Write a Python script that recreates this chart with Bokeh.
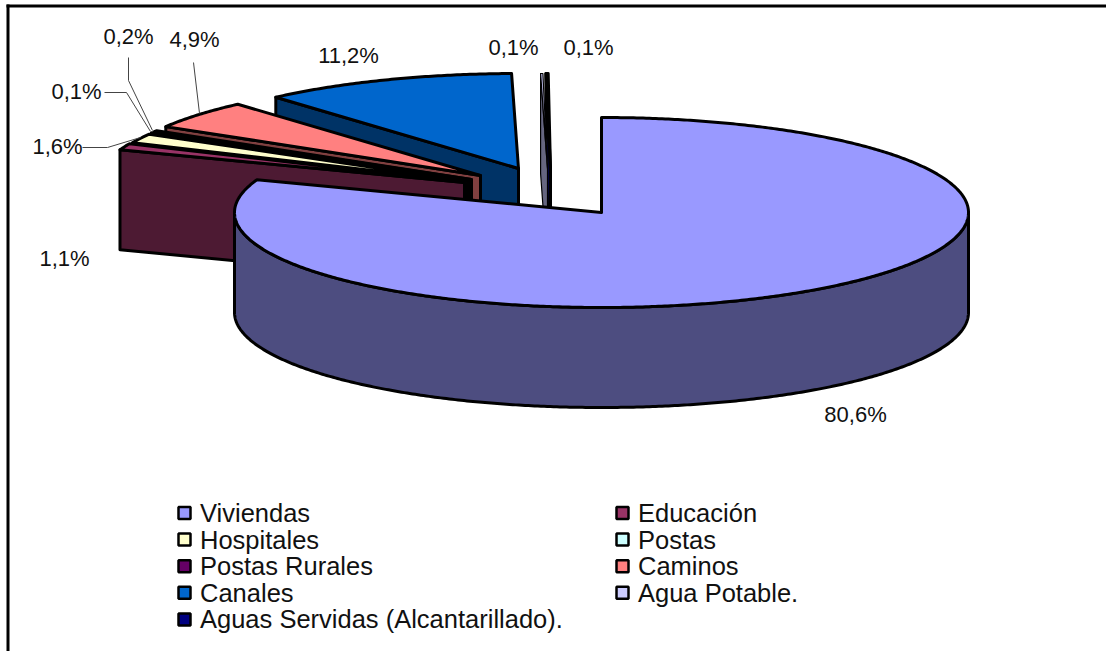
import math
from bokeh.plotting import figure
from bokeh.models import Range1d
from bokeh.core.properties import value
from bokeh.embed import file_html
from bokeh.resources import INLINE

# --- data ---
categories = ["Viviendas", "Educación", "Hospitales", "Postas", "Postas Rurales",
              "Caminos", "Canales", "Agua Potable.", "Aguas Servidas (Alcantarillado)."]
shares = [80.6, 1.1, 1.6, 0.1, 0.2, 4.9, 11.2, 0.1, 0.1]
share_labels = ["80,6%", "1,1%", "1,6%", "0,1%", "0,2%", "4,9%", "11,2%", "0,1%", "0,1%"]

# --- styles ---
top_colors = ["#9999FF", "#993366", "#FFFFCC", "#CCFFFF", "#660066", "#FF8080", "#0066CC", "#CCCCFF", "#000080"]
side_colors = ["#4D4D80", "#4D1A33", "#808066", "#668080", "#330033", "#804040", "#003366", "#666680", "#000040"]

# --- projection of the 3-D pie ---
RX, RY, DEPTH = 367, 95, 100
apex_x = [601, 464, 467, 469, 471, 480, 518, 547, 550]
apex_y = [212, 182, 181, 180, 179, 175, 168, 168, 168]
label_x = [855, 64, 57, 76, 128, 194, 348, 513, 588]
label_y = [414, 258, 146, 91, 36, 39, 55, 47, 47]
leaders = {2: [(82, 147), (107, 147), (140, 137)],
           3: [(104, 92), (126, 92), (150, 131)],
           4: [(128, 57), (128, 80), (152, 130)],
           5: [(193, 62), (199, 113)]}


def rim(cx, cy, deg, dz=0):
    a = math.radians(deg)
    return cx + RX * math.sin(a), cy - RY * math.cos(a) + dz


def arc(cx, cy, a0, a1, dz=0):
    n = max(2, int(abs(a1 - a0) * 2))
    return [rim(cx, cy, a0 + (a1 - a0) * i / n, dz) for i in range(n + 1)]


p = figure(width=1106, height=651, x_range=Range1d(0, 1106), y_range=Range1d(651, 0),
           toolbar_location=None, output_backend="svg", min_border=0,
           margin=(0, 0, 0, 0), outline_line_color=None, background_fill_color="white")
p.axis.visible = False
p.grid.visible = False


def poly(pts, fill, lw=3):
    p.patch([q[0] for q in pts], [q[1] for q in pts], fill_color=fill,
            line_color="black", line_width=lw, line_join="round")


# frame
p.line([6, 1106], [5.5, 5.5], line_color="black", line_width=3)
p.line([7.5, 7.5], [4, 651], line_color="black", line_width=3)

# slice angles
edges = [0.0]
for s in shares:
    edges.append(edges[-1] + s * 3.6)

# exploded slices, painted from the back to the front
for i in range(len(shares) - 1, 0, -1):
    cx, cy = apex_x[i], apex_y[i]
    a0, a1 = edges[i], edges[i + 1]
    o = rim(cx, cy, a0)
    lw = 1.2 if i == 7 else 3
    poly([o, (cx, cy), (cx, cy + DEPTH), (o[0], o[1] + DEPTH)], side_colors[i], lw)
    poly([(cx, cy)] + arc(cx, cy, a0, a1), top_colors[i], lw)

# main slice
cx, cy = apex_x[0], apex_y[0]
poly(arc(cx, cy, 90, 270) + arc(cx, cy, 270, 90, DEPTH), side_colors[0])
poly([(cx, cy)] + arc(cx, cy, edges[0], edges[1]), top_colors[0])

# leader lines
for pts in leaders.values():
    p.line([q[0] for q in pts], [q[1] for q in pts], line_color="#444444", line_width=1)

# data labels
p.text(label_x, label_y, text=share_labels, text_font=value("Liberation Sans"),
       text_font_size="22px", text_color="#111111", text_align="center", text_baseline="middle")

# legend
leg_x = [184 if i % 2 == 0 else 622 for i in range(len(categories))]
leg_y = [512.5 + 26.6 * (i // 2) for i in range(len(categories))]
p.scatter(leg_x, leg_y, marker="square", size=12, fill_color=top_colors,
          line_color="black", line_width=2.5)
p.text([x + 15.5 for x in leg_x], leg_y, text=categories, text_font=value("Liberation Sans"),
       text_font_size="25.5px", text_color="#111111", text_align="left", text_baseline="middle")

open("out.html", "w").write(file_html(p, INLINE))
